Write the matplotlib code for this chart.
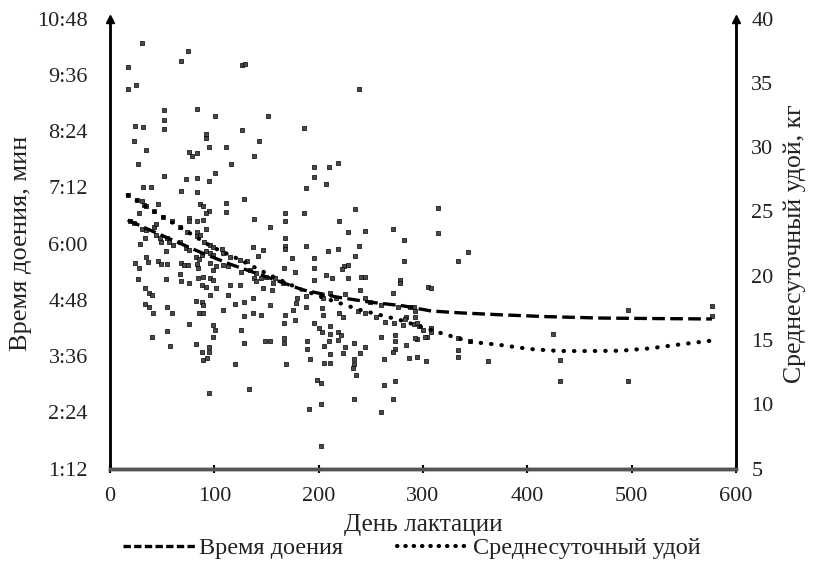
import matplotlib
matplotlib.use("Agg")
import matplotlib.pyplot as plt
from matplotlib.lines import Line2D
from matplotlib.ticker import FuncFormatter
import numpy as np

plt.rcParams['font.family'] = ['Liberation Serif', 'DejaVu Serif']

# scatter of observations: day of lactation, value on the left axis (minutes)
obs_day = [31, 75, 68, 17, 127, 129, 17, 25, 52, 52, 52, 83, 101, 151, 24, 32, 127, 92, 92, 23,
           143, 95, 111, 35, 76, 79, 83, 138, 27, 116, 239, 186, 196, 210, 219,
           52, 73, 83, 95, 101, 32, 39, 68, 83, 17, 26, 31, 33, 35, 46, 42, 28, 86, 89, 95,
           92, 111, 111, 128, 51, 76, 76, 83, 89, 92, 59, 138, 19, 23, 31, 35, 42, 44, 67,
           74, 83, 83, 86, 34, 44, 48, 49, 55, 57, 60, 29, 67, 73, 76, 90, 96, 99, 54, 82,
           85, 88, 92, 96, 99, 107, 108, 115, 125, 131, 137, 147, 142, 35, 36, 46, 49, 55,
           24, 28, 68, 71, 75, 83, 84, 96, 99, 102, 108, 113, 126, 134, 140, 145, 150, 27,
           54, 67, 68, 76, 84, 89, 96, 99, 92, 102, 88, 115, 113, 125, 138, 140, 147, 34,
           37, 40, 120, 128, 137, 34, 37, 41, 55, 59, 82, 88, 89, 85, 89, 108, 128, 137,
           145, 96,
           196, 207, 188, 168, 168, 186, 235, 220, 228, 244, 153, 271, 282, 168, 168, 168,
           188, 209, 219, 239, 235, 282, 174, 167, 196, 196, 177, 224, 228, 222, 196, 207,
           213, 228, 241, 244, 278, 278, 158, 156, 166, 240, 271, 155, 179, 188, 203, 204,
           211, 217, 225, 244, 249, 260, 276, 288, 153, 168, 175, 178, 188, 203, 204, 220,
           223, 238, 244, 255, 284, 292, 292, 305,
           40, 55, 58, 76, 82, 88, 89, 93, 95, 95, 99, 101, 99, 126, 128, 120, 149, 95, 133,
           167, 153, 167, 167, 169, 189, 189, 192, 196, 200, 203, 211, 211, 210, 205, 205,
           211, 211, 219, 221, 219, 223, 225, 234, 234, 234, 233, 236, 240, 244, 198, 202,
           191, 202, 202, 234, 260, 263, 263, 273, 271, 260, 273, 273, 273, 271, 284, 287,
           294, 303, 281, 291, 296, 300, 304, 294, 264, 272, 177,
           314, 314, 334, 343, 308, 308, 308, 334, 334, 334, 345, 362, 425, 431, 431, 497,
           497, 577, 577, 291, 294, 283, 292, 302]
obs_min = [10.28, 10.11, 9.90, 9.77, 9.81, 9.84, 9.30, 9.38, 8.85, 8.64, 8.44, 8.86, 8.71, 8.71,
           8.51, 8.49, 8.42, 8.34, 8.26, 8.19, 8.19, 8.05, 8.05, 7.99, 7.95, 7.86, 7.93, 7.86,
           7.70, 7.70, 9.30, 8.46, 7.64, 7.64, 7.71,
           7.45, 7.38, 7.39, 7.34, 7.50, 7.21, 7.21, 7.13, 7.09, 7.04, 6.93, 6.91, 6.82, 6.79,
           6.84, 6.69, 6.65, 6.84, 6.79, 6.69, 6.66, 6.86, 6.68, 6.95, 6.57, 6.54, 6.47, 6.47,
           6.50, 6.32, 6.47, 6.53, 6.49, 6.43, 6.32, 6.29, 6.36, 6.41, 6.36, 6.25, 6.25, 6.15,
           6.18, 6.11, 6.18, 6.11, 6.04, 6.11, 6.04, 5.97, 5.99, 6.04, 5.90, 5.86, 6.04, 5.97,
           5.92, 5.84, 5.72, 5.68, 5.76, 5.83, 5.79, 5.76, 5.88, 5.79, 5.71, 5.65, 5.63, 5.93,
           5.86, 5.73, 5.71, 5.61, 5.63, 5.56, 5.56, 5.58, 5.48, 5.59, 5.54, 5.54, 5.56, 5.47,
           5.58, 5.44, 5.51, 5.54, 5.51, 5.40, 5.44, 5.37, 5.26, 5.29, 5.24, 5.24, 5.34, 5.20,
           5.16, 5.26, 5.29, 5.26, 5.22, 5.08, 5.05, 5.12, 5.12, 4.90, 5.12, 5.26, 5.19, 5.05,
           5.05, 4.94, 4.90, 4.72, 4.76, 4.83, 4.72, 4.65, 4.52, 4.65, 4.51, 4.78, 4.76, 4.69,
           4.52, 4.51, 4.58, 4.45, 4.51, 4.48, 4.90,
           7.41, 7.26, 7.18, 6.66, 6.49, 6.66, 6.74, 6.49, 6.25, 6.27, 6.35, 6.32, 6.08, 6.11,
           5.95, 5.88, 5.95, 5.83, 5.89, 5.95, 5.73, 5.63, 5.70, 5.48, 5.70, 5.48, 5.40, 5.51,
           5.54, 5.45, 5.22, 5.33, 5.27, 5.27, 5.29, 5.29, 5.22, 5.15, 5.26, 5.15, 5.15, 5.01,
           4.95, 5.01, 4.83, 4.87, 4.88, 4.83, 4.94, 4.83, 4.92, 4.83, 4.76, 4.69, 4.65, 4.65,
           4.69, 4.48, 4.58, 4.74, 4.65, 4.62, 4.48, 4.51, 4.44, 4.55, 4.51, 4.44, 4.44, 4.55,
           4.44, 5.08,
           4.01, 4.14, 3.82, 4.28, 3.86, 3.68, 3.52, 3.55, 3.80, 3.69, 4.26, 4.16, 4.00, 4.16,
           3.87, 3.44, 3.93, 2.82, 2.89, 4.31, 3.93, 3.98, 3.88, 3.42, 3.91, 3.76, 3.53, 4.30,
           4.19, 4.12, 4.24, 4.07, 3.93, 3.81, 3.46, 3.64, 3.46, 4.12, 4.05, 3.94, 3.66, 3.80,
           3.88, 3.53, 3.42, 3.34, 3.20, 3.67, 3.80, 3.09, 3.03, 2.48, 2.58, 1.67, 2.68, 4.01,
           3.53, 2.98, 3.07, 2.68, 2.41, 4.05, 3.91, 3.76, 3.69, 3.84, 3.55, 3.57, 3.50, 4.26,
           4.28, 4.23, 4.16, 4.01, 3.96, 4.33, 4.30, 4.37,
           6.76, 6.22, 5.63, 5.81, 5.05, 4.19, 4.12, 3.98, 3.73, 3.57, 3.91, 3.50, 4.06, 3.52,
           3.07, 4.58, 3.07, 4.67, 4.45, 4.65, 4.30, 4.40, 3.98, 4.01]

# trend of milking time (left axis, minutes)
time_day = [17, 45, 86, 115, 150, 185, 217, 249, 281, 308, 336, 374, 419, 470, 518, 577]
time_min = [6.50, 6.22, 5.82, 5.56, 5.29, 5.01, 4.86, 4.75, 4.67, 4.56, 4.52, 4.48, 4.44,
            4.41, 4.40, 4.39]

# trend of daily milk yield (right axis, kg)
yield_day = [17, 25, 38, 67, 98, 125, 153, 182, 211, 240, 278, 317, 345, 374, 403, 431, 460,
             489, 518, 547, 576]
yield_kg = [26.27, 25.88, 25.18, 23.78, 22.23, 21.22, 20.05, 18.96, 18.11, 17.33, 16.55,
            15.54, 14.86, 14.61, 14.29, 14.14, 14.14, 14.16, 14.35, 14.66, 14.94]

left_ticks = [1.2, 2.4, 3.6, 4.8, 6.0, 7.2, 8.4, 9.6, 10.8]
right_ticks = [5, 10, 15, 20, 25, 30, 35, 40]
x_ticks = [0, 100, 200, 300, 400, 500, 600]


def mmss(v, pos=None):
    s = int(round(v * 60))
    return f"{s // 60}:{s % 60:02d}"


fig = plt.figure(figsize=(8.14, 5.76), dpi=100)
ax = fig.add_axes([0.1351, 0.1866, 0.7690, 0.78125])
ax2 = ax.twinx()

ax.scatter(obs_day, obs_min, s=12, marker='s', facecolor='#4a4a4a', edgecolor='black',
           linewidths=0.5, zorder=3)
ax.plot(time_day, time_min, color='black', lw=2.4, dashes=(3.8, 1.6), zorder=4)
ax2.plot(yield_day, yield_kg, color='black', lw=3.0, dashes=(0.1, 2.4),
         dash_capstyle='round', zorder=4)

ax.set_xlim(0, 600)
ax.set_ylim(1.2, 10.8)
ax2.set_ylim(5, 40)
ax.set_xticks(x_ticks)
ax.set_yticks(left_ticks)
ax2.set_yticks(right_ticks)
ax.yaxis.set_major_formatter(FuncFormatter(mmss))

for a in (ax, ax2):
    a.spines['top'].set_visible(False)
    a.spines['left'].set_linewidth(1.8)
    a.spines['right'].set_linewidth(1.8)
    a.spines['bottom'].set_linewidth(2.5)
    a.spines['bottom'].set_color('#555555')

ax.tick_params(axis='x', direction='inout', length=6, width=1.5, labelsize=16, pad=10,
               labelcolor='#222222')
ax.tick_params(axis='y', length=0, labelsize=16, pad=16, labelcolor='#222222')
ax2.tick_params(axis='y', length=0, labelsize=16, pad=11, labelcolor='#222222')

ax.plot(0, 1.0, marker='^', color='black', markersize=6, transform=ax.transAxes,
        clip_on=False)
ax.plot(1, 1.0, marker='^', color='black', markersize=6, transform=ax.transAxes,
        clip_on=False)

ax.set_xlabel('День лактации', fontsize=18.3, labelpad=6, color='#222222')
ax.set_ylabel('Время доения, мин', fontsize=19, labelpad=4, color='#222222')
ax2.set_ylabel('Среднесуточный удой, кг', fontsize=18.5, labelpad=7, color='#222222')

handles = [Line2D([], [], color='black', lw=2.4, dashes=(2.2, 1.0)),
           Line2D([], [], color='black', lw=3.0, dashes=(0.1, 1.9), dash_capstyle='round')]
fig.legend(handles, ['Время доения', 'Среднесуточный удой'], loc='center',
           bbox_to_anchor=(0.506, 0.048), ncol=2, frameon=False, fontsize=17.5,
           handlelength=3.0, handletextpad=0.15, columnspacing=2.2, labelcolor='#222222')

plt.savefig('out.png', dpi=100)
